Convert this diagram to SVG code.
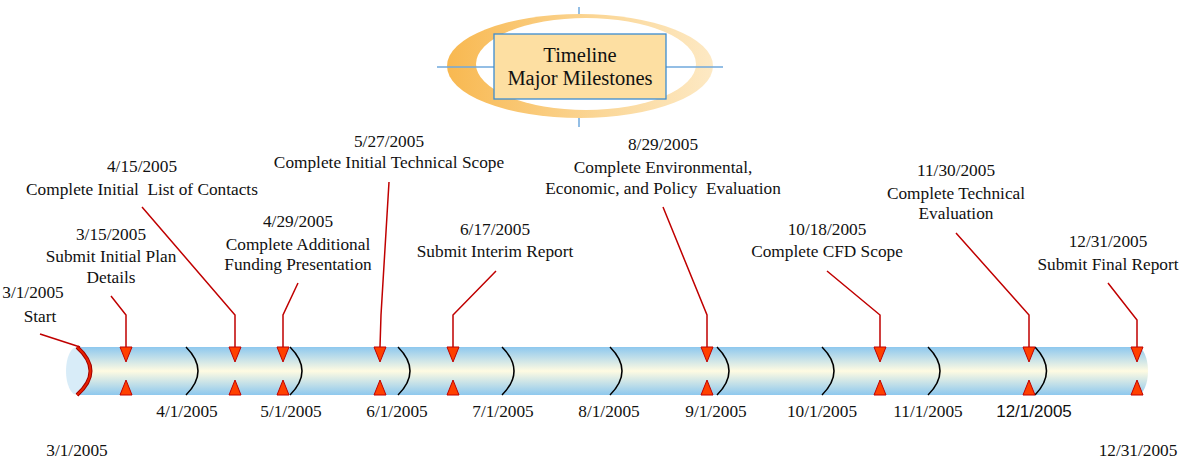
<svg xmlns="http://www.w3.org/2000/svg" width="1188" height="464" viewBox="0 0 1188 464">
<defs>
<linearGradient id="tube" x1="0" y1="0" x2="0" y2="1">
<stop offset="0" stop-color="#8EC8EE"/>
<stop offset="0.5" stop-color="#FFFBE2"/>
<stop offset="1" stop-color="#8EC8EE"/>
</linearGradient>
<linearGradient id="ring" x1="0" y1="0" x2="1" y2="0">
<stop offset="0" stop-color="#F8B850"/>
<stop offset="0.6" stop-color="#FBD89A"/>
<stop offset="1" stop-color="#FDE9C4"/>
</linearGradient>
<style>
text{font-family:"Liberation Serif","Times New Roman",serif;font-size:17.3px;fill:#111;text-anchor:middle}
.sans{font-family:"Liberation Sans",Arial,sans-serif;font-size:17px}
.title{font-size:20.5px}
.lead{fill:none;stroke:#C00000;stroke-width:1.5}
.tri{fill:#FF4000;stroke:#C00000;stroke-width:1}
.month{fill:none;stroke:#000;stroke-width:1.5}
.cross{stroke:#6FA8DC;stroke-width:1.5}
</style>
<g id="tri-pair">
<polygon class="tri" points="-6,347 6,347 0,362"/>
<polygon class="tri" points="-6,395 6,395 0,380"/>
</g>
</defs>

<g id="title">
<line class="cross" x1="579" y1="7" x2="579" y2="18"/>
<line class="cross" x1="579" y1="116" x2="579" y2="127"/>
<ellipse cx="580" cy="66" rx="133" ry="52" fill="url(#ring)"/>
<ellipse cx="586" cy="64" rx="110" ry="46" fill="#FFFFFF"/>
<line class="cross" x1="437" y1="67" x2="723" y2="67"/>
<rect x="494" y="34" width="172" height="65" fill="#FDDFA2" stroke="#3C8CD0" stroke-width="1.3"/>
<text class="title" x="580" y="62">Timeline</text>
<text class="title" x="580" y="85">Major Milestones</text>
</g>

<g id="tube-body">
<path d="M77,347 H1137 A11,24 0 0 1 1137,395 H77 Z" fill="url(#tube)"/>
<ellipse cx="77" cy="371" rx="11" ry="24" fill="#D8ECF8"/>
<path d="M77,347 Q104,371 77,395" fill="none" stroke="#A00000" stroke-width="4"/>
<path d="M77,347 Q104,371 77,395" fill="none" stroke="#E82000" stroke-width="2"/>
</g>

<g id="month-marks">
<path class="month" d="M186,347 Q210,371 186,395"/>
<path class="month" d="M290,347 Q314,371 290,395"/>
<path class="month" d="M398,347 Q422,371 398,395"/>
<path class="month" d="M502,347 Q526,371 502,395"/>
<path class="month" d="M610,347 Q634,371 610,395"/>
<path class="month" d="M717,347 Q741,371 717,395"/>
<path class="month" d="M822,347 Q846,371 822,395"/>
<path class="month" d="M928,347 Q952,371 928,395"/>
<path class="month" d="M1035,347 Q1058,371 1035,395"/>
</g>

<g id="month-labels">
<text x="187" y="417">4/1/2005</text>
<text x="291" y="417">5/1/2005</text>
<text x="397" y="417">6/1/2005</text>
<text x="503" y="417">7/1/2005</text>
<text x="609" y="417">8/1/2005</text>
<text x="716" y="417">9/1/2005</text>
<text x="822" y="417">10/1/2005</text>
<text x="928" y="417">11/1/2005</text>
<text class="sans" x="1034" y="417">12/1/2005</text>
<text x="77" y="456">3/1/2005</text>
<text x="1138" y="456">12/31/2005</text>
</g>

<g id="connectors">
<polyline class="lead" points="40,334 80,347"/>
<polyline class="lead" points="111,296 126,315 126,347"/>
<polyline class="lead" points="142,207 235,315 235,347"/>
<polyline class="lead" points="298,283 283,315 283,347"/>
<polyline class="lead" points="389,182 381,315 380,347"/>
<polyline class="lead" points="496,271 453,315 453,347"/>
<polyline class="lead" points="663,207 707,315 707,347"/>
<polyline class="lead" points="827,271 880,315 880,347"/>
<polyline class="lead" points="956,233 1029,315 1029,347"/>
<polyline class="lead" points="1108,283 1137,320 1137,347"/>
</g>

<g id="m-0301">
<text x="33" y="298">3/1/2005</text>
<text x="40" y="322">Start</text>
</g>
<g id="m-0315">
<use href="#tri-pair" x="126"/>
<text x="111" y="240">3/15/2005</text>
<text x="111" y="262">Submit Initial Plan</text>
<text x="111" y="283">Details</text>
</g>
<g id="m-0415">
<use href="#tri-pair" x="235"/>
<text x="142" y="172">4/15/2005</text>
<text x="142" y="195" xml:space="preserve">Complete Initial  List of Contacts</text>
</g>
<g id="m-0429">
<use href="#tri-pair" x="283"/>
<text x="298" y="227">4/29/2005</text>
<text x="298" y="250">Complete Additional</text>
<text x="298" y="270">Funding Presentation</text>
</g>
<g id="m-0527">
<use href="#tri-pair" x="380"/>
<text x="389" y="147">5/27/2005</text>
<text x="389" y="168">Complete Initial Technical Scope</text>
</g>
<g id="m-0617">
<use href="#tri-pair" x="453"/>
<text x="495" y="235">6/17/2005</text>
<text x="495" y="257">Submit Interim Report</text>
</g>
<g id="m-0829">
<use href="#tri-pair" x="707"/>
<text x="663" y="150">8/29/2005</text>
<text x="663" y="173">Complete Environmental,</text>
<text x="663" y="194" xml:space="preserve">Economic, and Policy  Evaluation</text>
</g>
<g id="m-1018">
<use href="#tri-pair" x="880"/>
<text x="827" y="235">10/18/2005</text>
<text x="827" y="257">Complete CFD Scope</text>
</g>
<g id="m-1130">
<use href="#tri-pair" x="1029"/>
<text x="956" y="176">11/30/2005</text>
<text x="956" y="199">Complete Technical</text>
<text x="956" y="219">Evaluation</text>
</g>
<g id="m-1231">
<use href="#tri-pair" x="1137"/>
<text x="1108" y="247">12/31/2005</text>
<text x="1108" y="270">Submit Final Report</text>
</g>
</svg>
